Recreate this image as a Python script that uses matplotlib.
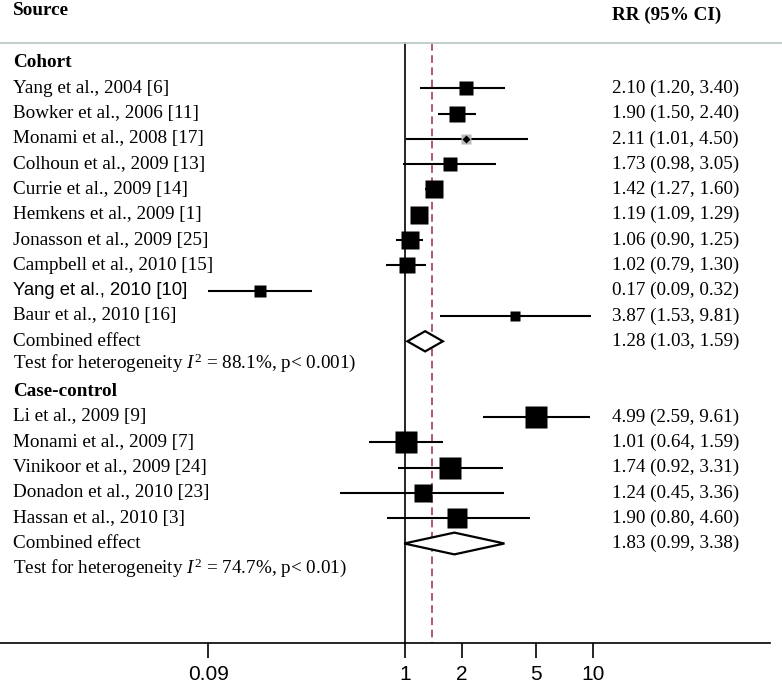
import matplotlib
matplotlib.use("Agg")
import matplotlib.pyplot as plt
from matplotlib.lines import Line2D
import numpy as np

plt.rcParams['mathtext.fontset'] = 'custom'
plt.rcParams['mathtext.rm'] = 'Liberation Serif'
plt.rcParams['mathtext.it'] = 'Liberation Serif:italic'

# ---------------- data ----------------
cohort_labels = ["Yang et al., 2004 [6]", "Bowker et al., 2006 [11]", "Monami et al., 2008 [17]",
                 "Colhoun et al., 2009 [13]", "Currie et al., 2009 [14]", "Hemkens et al., 2009 [1]",
                 "Jonasson et al., 2009 [25]", "Campbell et al., 2010 [15]", "Yang et al., 2010 [10]",
                 "Baur et al., 2010 [16]"]
cohort_rr = [2.10, 1.90, 2.11, 1.73, 1.42, 1.19, 1.06, 1.02, 0.17, 3.87]
cohort_lo = [1.20, 1.50, 1.01, 0.98, 1.27, 1.09, 0.90, 0.79, 0.09, 1.53]
cohort_hi = [3.40, 2.40, 4.50, 3.05, 1.60, 1.29, 1.25, 1.30, 0.32, 9.81]
cohort_weight = [6.0, 9.0, 3.5, 6.0, 10.0, 10.0, 10.0, 9.5, 5.0, 3.5]
cohort_combined = (1.28, 1.03, 1.59)
cohort_het = "88.1%, p< 0.001)"

cc_labels = ["Li et al., 2009 [9]", "Monami et al., 2009 [7]", "Vinikoor et al., 2009 [24]",
             "Donadon et al., 2010 [23]", "Hassan et al., 2010 [3]"]
cc_rr = [4.99, 1.01, 1.74, 1.24, 1.90]
cc_lo = [2.59, 0.64, 0.92, 0.45, 0.80]
cc_hi = [9.61, 1.59, 3.31, 3.36, 4.60]
cc_weight = [15.7, 15.7, 15.7, 11.5, 12.9]
cc_combined = (1.83, 0.99, 3.38)
cc_het = "74.7%, p< 0.01)"

overall_rr = 1.39
tick_values = [0.09, 1, 2, 5, 10]
tick_labels = ["0.09", "1", "2", "5", "10"]

# ---------------- layout ----------------
W, H = 782, 684
fig = plt.figure(figsize=(W / 100, H / 100), dpi=100)
axis_px = 643
ax_w_px = 770
ax = fig.add_axes([0, (H - axis_px) / H, ax_w_px / W, axis_px / H])

px_per_dec = 188.0
x_one_px = 405.0
ax.set_xscale('log')
ax.set_xlim(10 ** (-x_one_px / px_per_dec), 10 ** ((ax_w_px - x_one_px) / px_per_dec))

row_h = 25.3
row0_px = 63.0
def prow(p):
    return (p - row0_px) / row_h
ax.set_ylim(prow(axis_px), prow(0))

serif = ['Liberation Serif', 'DejaVu Serif']
sans = ['Liberation Sans', 'DejaVu Sans']
fs = 13.8
lab_x = 13 / ax_w_px
val_x = 612 / ax_w_px
ytr = ax.get_yaxis_transform()

def px2pt(p):
    return p * 72 / 100

def draw_study(y, rr, lo, hi, w, label, gray=False, sansfont=False):
    ax.plot([lo, hi], [y, y], color='black', lw=1.5, solid_capstyle='butt', zorder=3)
    side = 5.4 * np.sqrt(w)
    if gray:
        ax.plot([rr], [y], marker='s', ms=px2pt(side), color='#b9b9b9', mec='none', zorder=4)
        ax.plot([rr], [y], marker='D', ms=px2pt(6), color='black', mec='none', zorder=5)
    else:
        ax.plot([rr], [y], marker='s', ms=px2pt(side), color='black', mec='none', zorder=4)
    ax.text(lab_x, y, label, transform=ytr, va='center', ha='left',
            family=sans if sansfont else serif, fontsize=13.3 if sansfont else fs)
    ax.text(val_x, y, f"{rr:.2f} ({lo:.2f}, {hi:.2f})", transform=ytr, va='center', ha='left',
            family=serif, fontsize=fs)

def draw_diamond(y, est, lo, hi, half_h):
    ax.fill([lo, est, hi, est, lo], [y, y - half_h, y, y + half_h, y],
            facecolor='white', edgecolor='black', lw=1.6, zorder=4)
    ax.text(lab_x, y, "Combined effect", transform=ytr, va='center', ha='left', family=serif, fontsize=fs)
    ax.text(val_x, y, f"{est:.2f} ({lo:.2f}, {hi:.2f})", transform=ytr, va='center', ha='left',
            family=serif, fontsize=fs)

def draw_het(y, s):
    ax.text(lab_x, y, r"Test for heterogeneity $I^2$ = " + s, transform=ytr, va='center', ha='left',
            family=serif, fontsize=fs)

# headers
ax.text(lab_x, prow(11), "Source", transform=ytr, va='center', ha='left', family=serif,
        fontsize=fs, fontweight='bold')
ax.text(val_x, prow(15), "RR (95% CI)", transform=ytr, va='center', ha='left', family=serif,
        fontsize=fs, fontweight='bold')
fig.add_artist(Line2D([0, 1], [1 - 43 / H] * 2, color='#bfc9c9', lw=1.3))

# reference lines
top_line = prow(43)
ax.plot([1, 1], [top_line, prow(axis_px)], color='black', lw=1.2, zorder=2)
ax.plot([overall_rr, overall_rr], [top_line, prow(axis_px)], color='#9e2a4a', lw=1.1,
        dashes=(5, 3), zorder=2)

# cohort
ax.text(lab_x, 0, "Cohort", transform=ytr, va='center', ha='left', family=serif,
        fontsize=fs, fontweight='bold')
for i, (lab, r, lo, hi, w) in enumerate(zip(cohort_labels, cohort_rr, cohort_lo, cohort_hi, cohort_weight)):
    draw_study(1 + i, r, lo, hi, w, lab, gray=(i == 2), sansfont=(i == 8))
draw_diamond(11, *cohort_combined, 0.4)
draw_het(prow(363), cohort_het)

# case-control
y_cc = prow(392)
ax.text(lab_x, y_cc, "Case-control", transform=ytr, va='center', ha='left', family=serif,
        fontsize=fs, fontweight='bold')
for i, (lab, r, lo, hi, w) in enumerate(zip(cc_labels, cc_rr, cc_lo, cc_hi, cc_weight)):
    draw_study(prow(417) + i, r, lo, hi, w, lab)
draw_diamond(prow(417) + 5, *cc_combined, 0.43)
draw_het(prow(568), cc_het)

# axis styling
for s in ['top', 'left', 'right']:
    ax.spines[s].set_visible(False)
ax.spines['bottom'].set_linewidth(1.2)
ax.set_yticks([])
ax.set_xticks(tick_values)
ax.set_xticklabels(tick_labels, family=['Liberation Sans Narrow', 'Liberation Sans', 'DejaVu Sans'],
                   fontsize=15)
ax.minorticks_off()
ax.tick_params(axis='x', direction='out', length=11, width=1.2, pad=5)
ax.patch.set_alpha(0)

fig.savefig("out.png", dpi=100)
